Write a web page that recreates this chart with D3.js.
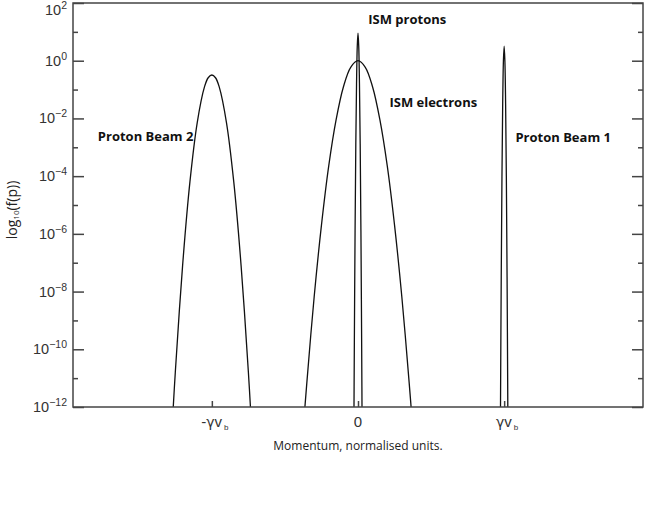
<!DOCTYPE html>
<html>
<head>
<meta charset="utf-8">
<script src="https://cdn.jsdelivr.net/npm/d3@7"></script>
<style>
  body { margin: 0; background: #fff; }
  svg { display: block; }
  .lbl { font-family: "Open Sans", sans-serif; font-weight: 700; font-size: 13px; fill: #111; }
  .tick-lbl { font-family: "Liberation Sans", Arial, sans-serif; fill: #333; }
</style>
</head>
<body>
<div id="graf"></div>
<script>
// datos (momento en unidades de gamma*v_b, f(p))
beam2P = [-1.27, -1.25, -1.2, -1.15, -1.1, -1.05, -1.025, -1.0, -0.975, -0.95, -0.9, -0.85, -0.8, -0.75, -0.73]
beam2F = [3e-13, 1.6e-11, 8.1e-8, 6.3e-5, 7.2e-3, 0.126, 0.257, 0.32, 0.257, 0.126, 7.2e-3, 6.3e-5, 8.1e-8, 1.6e-11, 3e-13]

elecP = [-0.38, -0.35, -0.3, -0.25, -0.2, -0.15, -0.1, -0.05, 0, 0.05, 0.1, 0.15, 0.2, 0.25, 0.3, 0.35, 0.38]
elecF = [8e-14, 7e-12, 6.5e-9, 2e-6, 2.3e-4, 8.9e-3, 0.123, 0.59, 1, 0.59, 0.123, 8.9e-3, 2.3e-4, 2e-6, 6.5e-9, 7e-12, 8e-14]

protP = [-0.029, -0.025, -0.02, -0.015, -0.01, -0.005, 0, 0.005, 0.01, 0.015, 0.02, 0.025, 0.029]
protF = [3e-14, 1.6e-10, 1.3e-6, 1.3e-3, 0.16, 3.2, 9.1, 3.2, 0.16, 1.3e-3, 1.3e-6, 1.6e-10, 3e-14]

beam1P = [0.973, 0.975, 0.98, 0.985, 0.99, 0.995, 1.0, 1.005, 1.01, 1.015, 1.02, 1.025, 1.027]
beam1F = [1e-14, 1e-12, 3.2e-8, 1e-4, 3.2e-2, 1, 3.2, 1, 3.2e-2, 1e-4, 3.2e-8, 1e-12, 1e-14]

yTicks = [-12, -10, -8, -6, -4, -2, 0, 2]
yMinor = [-11, -9, -7, -5, -3, -1, 1]
xTicks = [-1, 0, 1]
xTickTxt = [['-\u03B3', 'v', 'b'], ['', '0', ''], ['\u03B3', 'v', 'b']]

etiquetas = [
  { txt: 'Proton Beam 2', p: -1.78, f: 1.6e-3 },
  { txt: 'ISM protons', p: 0.07, f: 18 },
  { txt: 'ISM electrons', p: 0.215, f: 2.4e-2 },
  { txt: 'Proton Beam 1', p: 1.077, f: 1.5e-3 }
]

// margenes y tamano
ancho_total = 654
alto_total = 517
margins = { top: 3, left: 73, right: 11, bottom: 110 }
ancho = ancho_total - margins.left - margins.right
alto = alto_total - margins.top - margins.bottom

svg = d3.select('#graf').append('svg')
  .attr('width', ancho_total)
  .attr('height', alto_total)

g = svg.append('g')
  .attr('transform', `translate(${margins.left}, ${margins.top})`)

// escalas
x = d3.scaleLinear().domain([-1.95, 1.95]).range([0, ancho])
y = d3.scaleLog().domain([1e-12, 1e2]).range([alto, 0])

svg.append('defs').append('clipPath').attr('id', 'clip')
  .append('rect').attr('width', ancho).attr('height', alto)

// curvas
linea = d3.line()
  .x(d => x(d[0]))
  .y(d => y(d[1]))
  .curve(d3.curveCatmullRom)

curvas = [
  d3.zip(beam2P, beam2F),
  d3.zip(elecP, elecF),
  d3.zip(protP, protF),
  d3.zip(beam1P, beam1F)
]

g.append('g').attr('clip-path', 'url(#clip)')
  .selectAll('path')
  .data(curvas)
  .enter().append('path')
    .attr('d', linea)
    .attr('fill', 'none')
    .attr('stroke', '#111')
    .attr('stroke-width', 1.3)

// marco
g.append('rect')
  .attr('width', ancho).attr('height', alto)
  .attr('fill', 'none')
  .attr('stroke', '#444')
  .attr('stroke-width', 1.5)

// ticks eje y (izquierda y derecha, hacia adentro)
yAxisL = d3.axisRight(y).tickValues(yTicks.map(e => Math.pow(10, e))).tickSize(11).tickFormat('')
yAxisLm = d3.axisRight(y).tickValues(yMinor.map(e => Math.pow(10, e))).tickSize(5).tickFormat('')
yAxisR = d3.axisLeft(y).tickValues(yTicks.map(e => Math.pow(10, e))).tickSize(11).tickFormat('')
yAxisRm = d3.axisLeft(y).tickValues(yMinor.map(e => Math.pow(10, e))).tickSize(5).tickFormat('')

;[yAxisL, yAxisLm].forEach(a => g.append('g').call(a))
;[yAxisR, yAxisRm].forEach(a => g.append('g').attr('transform', `translate(${ancho}, 0)`).call(a))

xAxis = d3.axisTop(x).tickValues(xTicks).tickSize(6).tickFormat('')
g.append('g').attr('transform', `translate(0, ${alto})`).call(xAxis)

g.selectAll('.domain').remove()
g.selectAll('.tick line').attr('stroke', '#444').attr('stroke-width', 1.5)

// etiquetas eje y con superindice
yLab = g.selectAll('.ylab')
  .data(yTicks)
  .enter().append('text')
    .attr('class', 'tick-lbl')
    .attr('text-anchor', 'end')
    .attr('x', -6)
    .attr('y', d => y(Math.pow(10, d)) + (d == 2 ? 12 : 5))
    .style('font-size', '14.5px')
yLab.append('tspan').text('10')
yLab.append('tspan').attr('dy', -6).style('font-size', '10.5px')
  .text(d => d < 0 ? '\u2212' + (-d) : d)

// etiquetas eje x
xLab = g.selectAll('.xlab')
  .data(xTicks)
  .enter().append('text')
    .attr('class', 'tick-lbl')
    .attr('text-anchor', 'middle')
    .attr('x', (d, i) => x(d) + (xTickTxt[i][2] ? 3 : 0))
    .attr('y', alto + 20)
    .style('font-size', '15px')
xLab.append('tspan').style('font-family', '"DejaVu Sans", sans-serif').style('font-size', '14px')
  .text((d, i) => xTickTxt[i][0])
xLab.append('tspan').text((d, i) => xTickTxt[i][1])
xLab.append('tspan').attr('dy', 3).attr('dx', 2).style('font-size', '8px')
  .text((d, i) => xTickTxt[i][2])

// titulos de ejes
svg.append('text')
  .attr('x', margins.left + x(0))
  .attr('y', 450)
  .attr('text-anchor', 'middle')
  .style('font-family', '"Open Sans", sans-serif')
  .style('font-size', '12px')
  .style('fill', '#222')
  .text('Momentum, normalised units.')

yTit = svg.append('text')
  .attr('transform', 'translate(17, 210) rotate(-90)')
  .attr('text-anchor', 'middle')
  .style('font-family', '"Open Sans", sans-serif')
  .style('font-size', '14px')
  .style('fill', '#222')
yTit.append('tspan').text('log')
yTit.append('tspan').attr('dy', 2).style('font-size', '8px').text('10')
yTit.append('tspan').attr('dy', -2).text('(f(p))')

// nombres de las curvas
g.selectAll('.lbl')
  .data(etiquetas)
  .enter().append('text')
    .attr('class', 'lbl')
    .attr('x', d => x(d.p))
    .attr('y', d => y(d.f))
    .text(d => d.txt)
</script>
</body>
</html>
